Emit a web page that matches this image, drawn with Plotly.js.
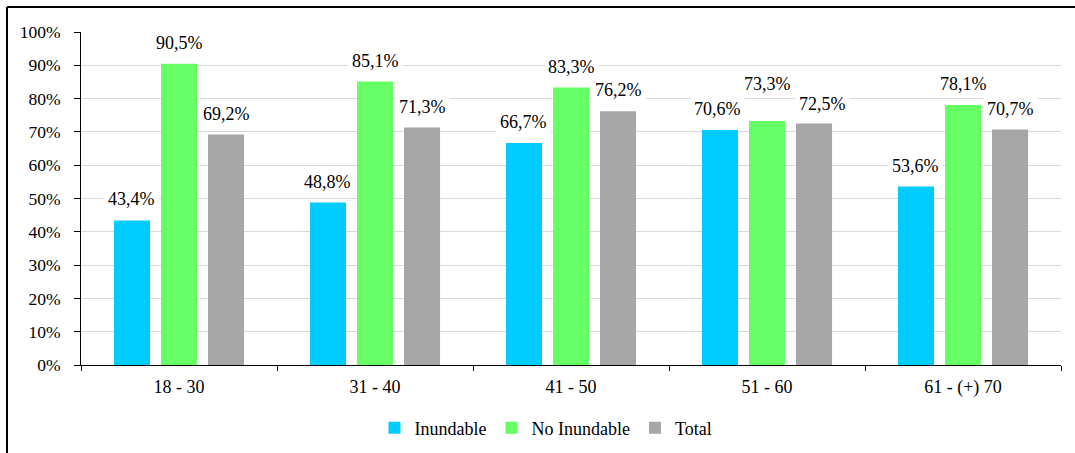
<!DOCTYPE html>
<html>
<head>
<meta charset="utf-8">
<script src="https://cdn.plot.ly/plotly-3.0.1.min.js"></script>
<style>
  html, body { margin: 0; padding: 0; background: #fff; }
  #chart { width: 1075px; height: 453px; }
</style>
</head>
<body>
<div id="chart"></div>
<script>
// Age groups and share per group (fractions)
const categories = ['18 - 30', '31 - 40', '41 - 50', '51 - 60', '61 - (+) 70'];
const inundable   = [0.434, 0.488, 0.667, 0.706, 0.536];
const noInundable = [0.905, 0.851, 0.833, 0.733, 0.781];
const total       = [0.692, 0.713, 0.762, 0.725, 0.707];
const seriesNames = ['Inundable', 'No Inundable', 'Total'];
const seriesColors = ['#00CCFF', '#66FF66', '#A6A6A6'];
const yTickVals = [0, 0.1, 0.2, 0.3, 0.4, 0.5, 0.6, 0.7, 0.8, 0.9, 1.0];
const yTickText = ['0%', '10%', '20%', '30%', '40%', '50%', '60%', '70%', '80%', '90%', '100%'];

const FONT = 'Times New Roman';
const W = 1075, H = 453;
const margin = { l: 81, r: 14, t: 32, b: 88 };
const bargap = 0.28;
const bargroupgap = 0.234;

// Pixel nudges for crowded value labels, keyed "series-category"
const labelNudge = { '1-3': { dx: 0, dy: 16 }, '2-3': { dx: 8, dy: -1 }, '0-3': { dx: -2, dy: 0 } };

const seriesValues = [inundable, noInundable, total];

const traces = seriesValues.map((vals, k) => ({
  type: 'bar',
  name: seriesNames[k],
  x: categories,
  y: vals,
  marker: { color: seriesColors[k], line: { width: 0 } },
  hoverinfo: 'skip'
}));

// Value labels with a white box so the gridlines stop behind them
const fmt = v => (v * 100).toFixed(1).replace('.', ',') + '%';
const slot = (1 - bargap) / seriesValues.length;
const annotations = [];
seriesValues.forEach((vals, k) => {
  const offset = (k - (seriesValues.length - 1) / 2) * slot;
  vals.forEach((v, i) => {
    const n = labelNudge[k + '-' + i] || { dx: 0, dy: 0 };
    annotations.push({
      x: i + offset,
      y: v,
      xref: 'x', yref: 'y',
      text: fmt(v),
      showarrow: false,
      yanchor: 'middle',
      xshift: n.dx,
      yshift: 21 + n.dy,
      bgcolor: '#ffffff',
      borderpad: 3,
      font: { family: FONT, size: 18, color: '#000' }
    });
  });
});

// Frame around the figure (left and top edges fall inside the page)
const pw = W - margin.l - margin.r, ph = H - margin.t - margin.b;
const px = x => (x - margin.l) / pw;
const py = y => (H - margin.b - y) / ph;
const shapes = [
  { type: 'line', xref: 'paper', yref: 'paper', x0: px(7), x1: px(7), y0: py(7), y1: py(H + 5), line: { color: '#000', width: 2 } },
  { type: 'line', xref: 'paper', yref: 'paper', x0: px(7), x1: px(W + 5), y0: py(7), y1: py(7), line: { color: '#000', width: 2 } }
];

const layout = {
  width: W, height: H,
  margin: margin,
  paper_bgcolor: '#fff',
  plot_bgcolor: '#fff',
  barmode: 'group',
  bargap: bargap,
  bargroupgap: bargroupgap,
  font: { family: FONT, size: 18, color: '#000' },
  showlegend: true,
  legend: {
    orientation: 'h',
    x: 546 / W, xanchor: 'center', xref: 'container',
    y: 1 - 428 / H, yanchor: 'middle', yref: 'container',
    font: { family: FONT, size: 18, color: '#000' },
    itemwidth: 30,
    bgcolor: 'rgba(0,0,0,0)'
  },
  xaxis: {
    type: 'category',
    showline: true, linecolor: '#000', linewidth: 1,
    ticks: 'outside', ticklen: 5, tickcolor: '#000', tickwidth: 1,
    tickson: 'boundaries',
    showgrid: false,
    ticklabelstandoff: 5,
    tickfont: { family: FONT, size: 18, color: '#000' },
    zeroline: false,
    automargin: false,
    fixedrange: true
  },
  yaxis: {
    range: [0, 1],
    tickvals: yTickVals,
    ticktext: yTickText,
    showline: true, linecolor: '#000', linewidth: 1,
    ticks: 'outside', ticklen: 6, tickcolor: '#000', tickwidth: 1,
    showgrid: true, gridcolor: '#d9d9d9', gridwidth: 1,
    zeroline: false,
    ticklabelstandoff: 10,
    tickfont: { family: FONT, size: 17.5, color: '#000' },
    automargin: false,
    fixedrange: true
  },
  annotations: annotations,
  shapes: shapes
};

Plotly.newPlot('chart', traces, layout, { displayModeBar: false, staticPlot: true });
</script>
</body>
</html>
